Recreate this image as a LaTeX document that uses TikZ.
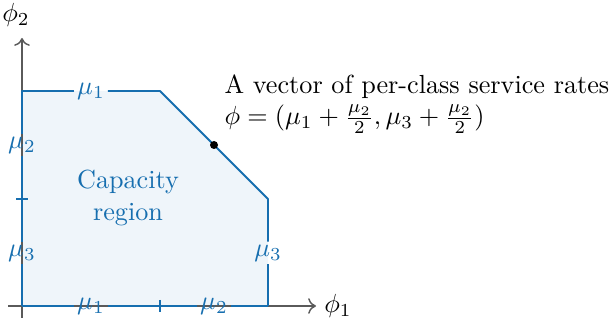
\documentclass[tikz,border=0pt]{standalone}
\usetikzlibrary{arrows.meta}
\definecolor{regline}{RGB}{22,110,175}
\definecolor{regfill}{RGB}{239,245,250}
\definecolor{axcol}{RGB}{90,90,90}
\begin{document}
\begin{tikzpicture}[x=0.382pt,y=-0.382pt,
  axis/.style={draw=axcol,line width=0.55pt,-{To[length=3pt,width=6pt]}},
  edge/.style={draw=regline,line width=0.7pt,line join=round},
  lab/.style={text=regline,inner sep=1pt},
  tickmark/.style={draw=regline,line width=0.55pt}]
\useasboundingbox (0,0) rectangle (615,320);
% corners
\coordinate (o) at (22,306);
\coordinate (a) at (268,306);
\coordinate (b) at (268,199);
\coordinate (c) at (160,91);
\coordinate (d) at (22,91);
\fill[regfill] (o) -- (a) -- (b) -- (c) -- (d) -- cycle;
% axes
\coordinate (xs) at (8,306);
\coordinate (xe) at (316,306);
\coordinate (ys) at (22,318);
\coordinate (ye) at (22,38);
\draw[axis] (xs) -- (xe);
\draw[axis] (ys) -- (ye);
\node[anchor=west,inner sep=3pt] (phi1) at (xe) {$\phi_1$};
\node[anchor=south,inner sep=2pt] (phi2) at (16,32) {$\phi_2$};
% edge labels
\node[lab] (l1) at (91,91) {$\mu_1$};
\node[lab] (l2) at (22,145) {$\mu_2$};
\node[lab] (l3) at (22,253) {$\mu_3$};
\node[lab] (l4) at (268,253) {$\mu_3$};
\node[lab] (l5) at (91,306) {$\mu_1$};
\node[lab] (l6) at (214,306) {$\mu_2$};
% region boundary
\draw[edge] (o) -- (l5);
\draw[edge] (l5) -- (l6);
\draw[edge] (l6) -- (a);
\draw[edge] (a) -- (l4);
\draw[edge] (l4) -- (b) -- (c) -- (l1);
\draw[edge] (l1) -- (d) -- (l2);
\draw[edge] (l2) -- (l3);
\draw[edge] (l3) -- (o);
% ticks
\coordinate (tx1) at (160,300);
\coordinate (tx2) at (160,312);
\coordinate (ty1) at (16,199);
\coordinate (ty2) at (28,199);
\draw[tickmark] (tx1) -- (tx2);
\draw[tickmark] (ty1) -- (ty2);
\node[text=regline,align=center] (cap) at (128,198) {Capacity\\region};
% point
\fill (214,145) circle (4) coordinate (pt);
\node[anchor=north west,align=left,inner sep=0pt] (desc) at (224,74)
  {A vector of per-class service rates\\$\phi=(\mu_1+\frac{\mu_2}{2},\mu_3+\frac{\mu_2}{2})$};
\end{tikzpicture}
\end{document}
